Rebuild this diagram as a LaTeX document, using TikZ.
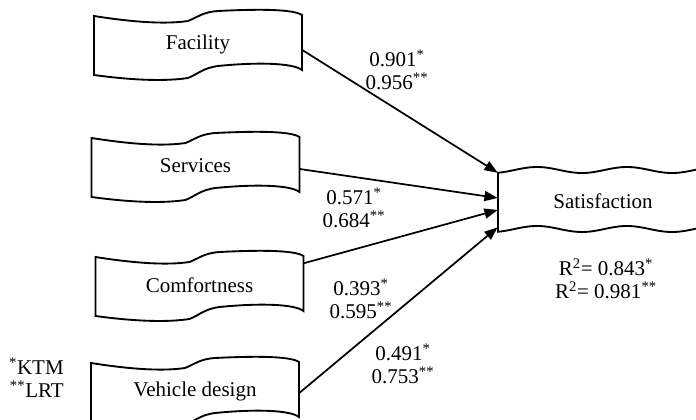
\documentclass[tikz,border=0pt]{standalone}
\usepackage{fontspec}
\setmainfont{Liberation Serif}
\usepackage{tikz}
\usetikzlibrary{arrows.meta, calc}

\begin{document}
\begin{tikzpicture}[x=0.75pt, y=-0.75pt,
           factor/.style={minimum width=156pt, minimum height=42.75pt, inner sep=0pt},
           outcome/.style={minimum width=157.5pt, minimum height=43.5pt, inner sep=0pt},
           weight/.style={align=center, inner sep=0pt},
           connections/.style={-{Triangle[length=10pt,width=7.5pt]},draw=black,line width=1.3pt},
           every node/.style={font=\fontsize{15.75}{17.25}\selectfont},
           flag/.pic={
             \draw[line width=1.4pt] (-104,-28) .. controls (-60,-21) and (-30,-20) .. (-10,-23)
                .. controls (0,-27) and (5,-32) .. (20,-33)
                .. controls (60,-35) and (95,-35) .. (104,-29) -- (104,26)
                .. controls (95,19) and (60,18) .. (20,22)
                .. controls (5,24) and (0,30) .. (-10,34)
                .. controls (-30,37) and (-60,37) .. (-104,31) -- cycle;
           },
        ]
        \useasboundingbox (0,0) rectangle (696,420);

        \node at (198,44) (facility) [factor] {Facility};
        \pic at (facility) {flag};
        \node at (195.5,166) (services) [factor] {Services};
        \pic at (services) {flag};
        \node at (199.5,285) (comfortness) [factor] {Comfortness};
        \pic at (comfortness) {flag};
        \node at (195,391) (vehicleDesign) [factor] {Vehicle design};
        \pic at (vehicleDesign) {flag};

        \node at (603,201) (satisfaction) [outcome] {Satisfaction};
        \draw[line width=1.4pt] plot[domain=696:498, samples=80, smooth] (\x, {229-3*cos(4*(\x-537))})
             -- plot[domain=498:696, samples=80, smooth] (\x, {170-3*cos(4*(\x-537))});

        \draw[connections] ($(facility.east)+(0,6)$) -- ($(satisfaction.north west)+(0,1)$);
        \draw[connections] ($(services.east)+(0,3)$) -- ($(satisfaction.west)+(0,-3)$);
        \draw[connections] ($(comfortness.north east)+(0,7)$) -- ($(satisfaction.west)+(0,9)$);
        \draw[connections] ($(vehicleDesign.east)+(0,2)$) -- ($(satisfaction.south west)+(0,-3)$);

        \node at (397,70) (facilityWeight) [weight] {0.901\textsuperscript{*}\\0.956\textsuperscript{**}};
        \node at (354,207.5) (servicesWeight) [weight] {0.571\textsuperscript{*}\\0.684\textsuperscript{**}};
        \node at (361,298.5) (comfortnessWeight) [weight] {0.393\textsuperscript{*}\\0.595\textsuperscript{**}};
        \node at (403,363.5) (vehicleDesignWeight) [weight] {0.491\textsuperscript{*}\\0.753\textsuperscript{**}};
        \node at (606,279) (satisfactionFit) [weight] {R\textsuperscript{2}= 0.843\textsuperscript{*}\\R\textsuperscript{2}= 0.981\textsuperscript{**}};
        \node at (64,377.5) (legend) [anchor=east, align=right, inner sep=0pt] {\textsuperscript{*}KTM\\\textsuperscript{**}LRT};
     \end{tikzpicture}
\end{document}
